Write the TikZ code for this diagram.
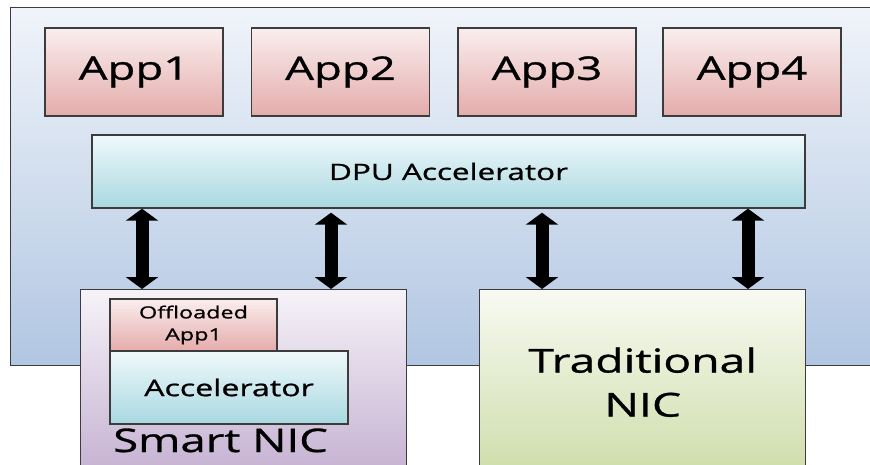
\documentclass[tikz,border=0pt]{standalone}
\usepackage{fontspec}
\usetikzlibrary{arrows.meta}
\newfontfamily\boxfont[FakeStretch=1.4,FakeBold=0.9]{Open Sans}

\definecolor{hostTop}{HTML}{F0F4FA}
\definecolor{hostBot}{HTML}{B1C6E2}
\definecolor{appTop}{HTML}{FAEEEE}
\definecolor{appBot}{HTML}{E4ACAB}
\definecolor{accTop}{HTML}{F0F9FB}
\definecolor{accBot}{HTML}{A8D8E1}
\definecolor{smartTop}{HTML}{F6F3F8}
\definecolor{smartBot}{HTML}{C5B1D2}
\definecolor{tradTop}{HTML}{F8FAF2}
\definecolor{tradBot}{HTML}{CEDDAA}
\definecolor{edgeGray}{HTML}{3C3C3C}

\begin{document}
\begin{tikzpicture}[x=1pt,y=-1pt,
    frame_box/.style={draw=edgeGray,line width=1.4pt,inner sep=0pt,align=center},
    host_box/.style={frame_box,top color=hostTop,bottom color=hostBot,anchor=north west},
    app_box/.style={frame_box,top color=appTop,bottom color=appBot,minimum width=178pt,minimum height=88pt,
      font=\boxfont\fontsize{32.5}{40}\selectfont},
    dpu_box/.style={frame_box,top color=accTop,bottom color=accBot,
      font=\boxfont\fontsize{22.5}{28}\selectfont},
    smart_box/.style={frame_box,top color=smartTop,bottom color=smartBot,anchor=north west},
    trad_box/.style={frame_box,top color=tradTop,bottom color=tradBot,anchor=north west,
      font=\boxfont\fontsize{33}{44}\selectfont},
    big_label/.style={inner sep=0pt,font=\boxfont\fontsize{32.5}{40}\selectfont},
    bus/.style={line width=13pt,{Triangle[width=32pt,length=12pt]}-{Triangle[width=32pt,length=12pt]}}]
  \clip (0,0) rectangle (870,465);
  % host
  \node[host_box,minimum width=870pt,minimum height=358pt] (host) at (10,7) {};
  % applications
  \foreach \i/\x in {1/134,2/340.5,3/547,4/752}
    \node[app_box] (app\i) at (\x,72) {App\i};
  \node[dpu_box,minimum width=713pt,minimum height=73pt] (dpu) at (448.5,171.5) {DPU Accelerator};
  % NICs
  \node[smart_box,minimum width=326pt,minimum height=185pt] (snic) at (80,289) {};
  \node[trad_box,minimum width=326pt,minimum height=185pt] (tnic) at (479,289) {Traditional\\NIC};
  \node[app_box,minimum width=167pt,minimum height=52pt,
    font=\boxfont\fontsize{16.7}{22}\selectfont] (offload) at (193.5,325) {Offloaded\\App1};
  \node[dpu_box,minimum width=238pt,minimum height=73pt,
    font=\boxfont\fontsize{23}{28}\selectfont] (acc) at (229,387.5) {Accelerator};
  \node[big_label,anchor=base west] (snic_label) at (113,452) {Smart NIC};
  % links between DPU and NICs
  \coordinate (p1) at ([xshift=62pt]snic.north west);
  \coordinate (p2) at ([xshift=251pt]snic.north west);
  \coordinate (p3) at ([xshift=63pt]tnic.north west);
  \coordinate (p4) at ([xshift=269pt]tnic.north west);
  \draw[bus] (p1 |- dpu.south) -- (p1);
  \draw[bus,shorten <=4pt] (p2 |- dpu.south) -- (p2);
  \draw[bus,shorten <=4pt] (p3 |- dpu.south) -- (p3);
  \draw[bus] (p4 |- dpu.south) -- (p4);
\end{tikzpicture}
\end{document}
